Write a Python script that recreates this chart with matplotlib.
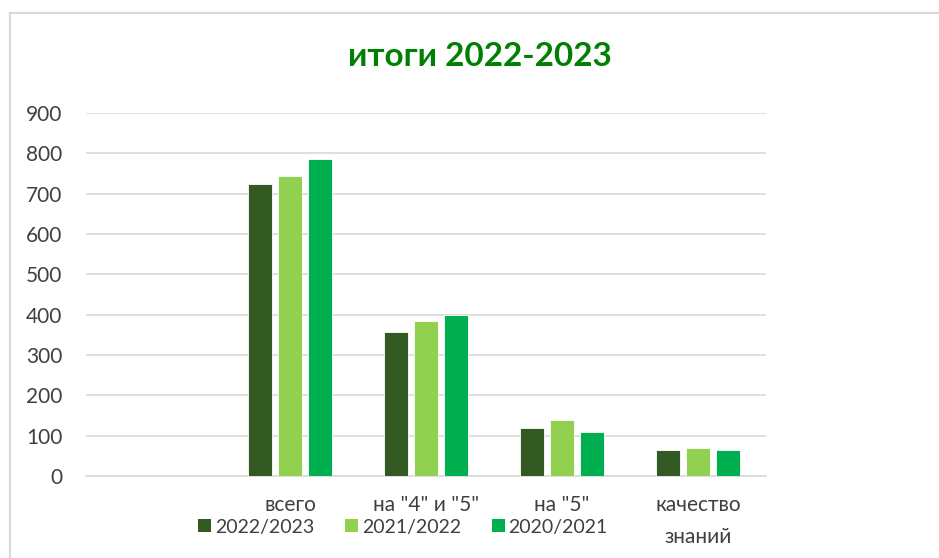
import matplotlib
matplotlib.use("Agg")
import matplotlib.pyplot as plt
from matplotlib.patches import Patch
import numpy as np

categories = ["", "всего", 'на "4" и "5"', 'на "5"', "качество\nзнаний"]
series_names = ["2022/2023", "2021/2022", "2020/2021"]
s2022 = [0, 725, 358, 120, 65]
s2021 = [0, 744, 384, 140, 69]
s2020 = [0, 785, 399, 110, 64]
colors = ["#325A22", "#92D050", "#00B050"]
yticks = [0, 100, 200, 300, 400, 500, 600, 700, 800, 900]

plt.rcParams['font.family'] = ['Lato', 'DejaVu Sans']

W, H = 939, 558
fig = plt.figure(figsize=(W / 100, H / 100), dpi=100)
ax = fig.add_axes([86 / W, 1 - 476 / H, (766 - 86) / W, (476 - 113) / H])

x = np.arange(len(categories))
step = 30 / 136
bw = 24 / 136
for k, (vals, c, name) in enumerate(zip([s2022, s2021, s2020], colors, series_names)):
    ax.bar(x + (k - 1) * step, vals, width=bw, color=c, edgecolor="white", linewidth=0.6,
           label=name, zorder=3)

ax.set_xlim(-0.5, len(categories) - 0.5)
ax.set_ylim(0, 900)
ax.set_yticks(yticks)
ax.set_yticklabels([str(v) for v in yticks])
ax.set_xticks(x)
ax.set_xticklabels(categories, linespacing=1.75)
ax.grid(axis="y", color="#D9D9D9", linewidth=1.2, zorder=0)
ax.set_axisbelow(True)
for s in ["top", "right", "left"]:
    ax.spines[s].set_visible(False)
ax.spines["bottom"].set_color("#D9D9D9")
ax.spines["bottom"].set_linewidth(1.2)
ax.tick_params(axis="both", length=0, labelsize=15, labelcolor="#404040")
ax.tick_params(axis="y", pad=17)
ax.tick_params(axis="x", pad=14)

fig.text(480 / W, 1 - 57 / H, "итоги 2022-2023", ha="center", va="center",
         fontsize=24, fontweight="bold", color="#008000")

# outer border (left and top only visible)
fig.add_artist(plt.Line2D([10 / W, 10 / W], [0, 1 - 13 / H], transform=fig.transFigure,
                          color="#D9D9D9", linewidth=1.5))
fig.add_artist(plt.Line2D([10 / W, 1], [1 - 13 / H, 1 - 13 / H], transform=fig.transFigure,
                          color="#D9D9D9", linewidth=1.5))

handles = [Patch(facecolor=c, edgecolor="none") for c in colors]
fig.legend(handles, series_names, loc="center", bbox_to_anchor=(403 / W, 1 - 527 / H), ncol=3,
           frameon=False, fontsize=14, handlelength=0.65, handleheight=0.65, handletextpad=0.2,
           columnspacing=1.6, labelcolor="#404040")

fig.savefig("out.png", dpi=100)
